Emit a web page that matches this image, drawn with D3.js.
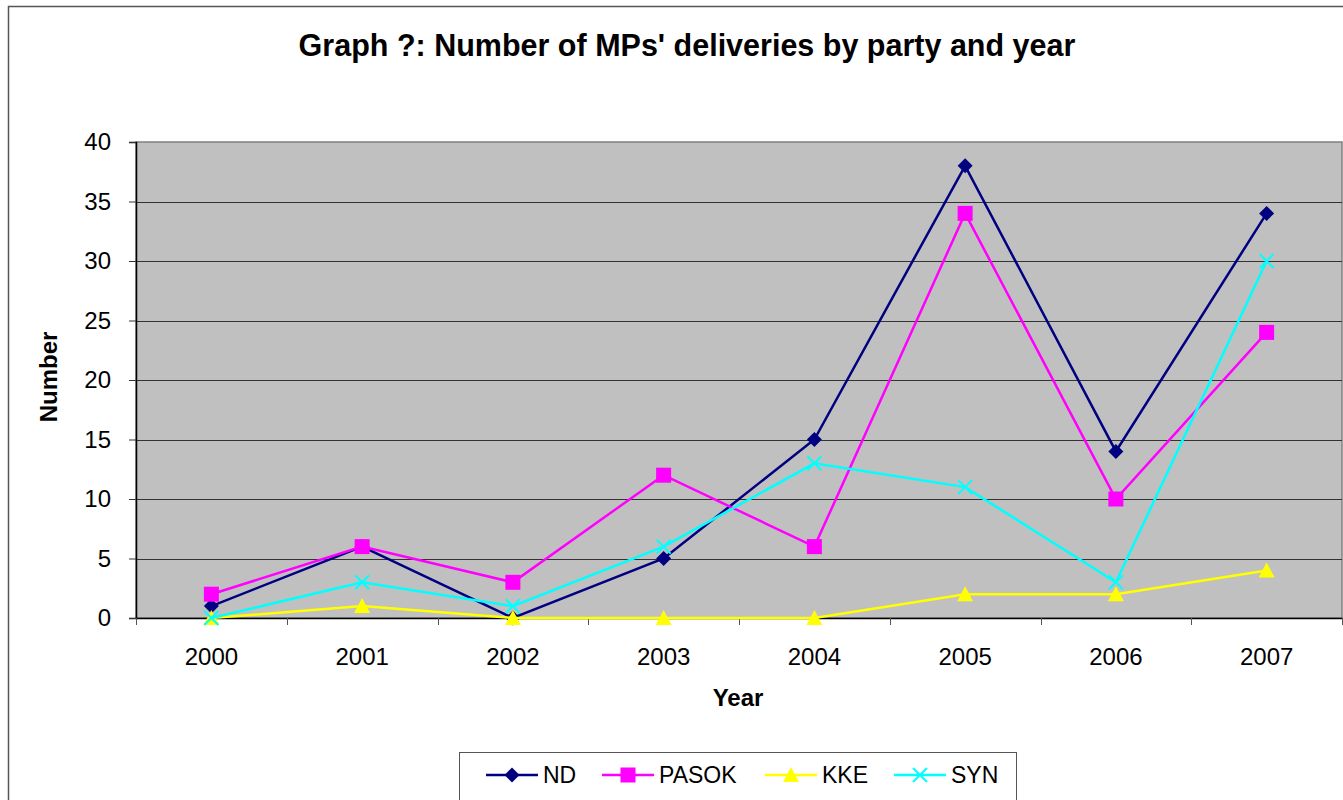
<!DOCTYPE html>
<html>
<head>
<meta charset="utf-8">
<script src="https://cdn.jsdelivr.net/npm/d3@7"></script>
<style>
  body { margin: 0; background: #fff; }
  svg { display: block; font-family: "Liberation Sans", Arial, sans-serif; }
</style>
</head>
<body>
<div id="chart"></div>
<script>
// Dados do gráfico
const years = ['2000', '2001', '2002', '2003', '2004', '2005', '2006', '2007'];
const ndValues = [1, 6, 0, 5, 15, 38, 14, 34];
const pasokValues = [2, 6, 3, 12, 6, 34, 10, 24];
const kkeValues = [0, 1, 0, 0, 0, 2, 2, 4];
const synValues = [0, 3, 1, 6, 13, 11, 3, 30];
const yTicks = [0, 5, 10, 15, 20, 25, 30, 35, 40];

const series = [
  { name: 'ND', values: ndValues, color: '#000080', symbol: 'diamond' },
  { name: 'PASOK', values: pasokValues, color: '#ff00ff', symbol: 'square' },
  { name: 'KKE', values: kkeValues, color: '#ffff00', symbol: 'triangle' },
  { name: 'SYN', values: synValues, color: '#00ffff', symbol: 'cross' }
];

const W = 1343, H = 800;
const plot = { left: 136, right: 1342, top: 142, bottom: 618 };

const svg = d3.select('#chart').append('svg')
  .attr('width', W)
  .attr('height', H);

// Borda externa
svg.append('rect')
  .attr('x', 8.5).attr('y', 6.5)
  .attr('width', W + 20).attr('height', H + 20)
  .attr('fill', '#fff')
  .attr('stroke', '#555')
  .attr('stroke-width', 1.5);

// Escalas
const x = d3.scaleBand().domain(years).range([plot.left, plot.right]);
const y = d3.scaleLinear().domain([0, 40]).range([plot.bottom, plot.top]);

// Fundo da área do gráfico
svg.append('rect')
  .attr('x', plot.left).attr('y', plot.top)
  .attr('width', plot.right - plot.left)
  .attr('height', plot.bottom - plot.top)
  .attr('fill', '#c0c0c0')
  .attr('stroke', '#808080')
  .attr('stroke-width', 1.5);

// Linhas de grade
svg.append('g')
  .selectAll('line')
  .data(yTicks.filter(d => d > 0 && d < 40))
  .enter().append('line')
  .attr('x1', plot.left).attr('x2', plot.right)
  .attr('y1', d => Math.round(y(d)) + 0.5)
  .attr('y2', d => Math.round(y(d)) + 0.5)
  .attr('stroke', '#333')
  .attr('stroke-width', 1);

// Eixo Y
const yAxis = svg.append('g')
  .attr('transform', `translate(${plot.left},0)`)
  .call(d3.axisLeft(y).tickValues(yTicks).tickSize(7).tickPadding(18));
yAxis.select('.domain').attr('stroke', '#000').attr('stroke-width', 1.5);
yAxis.selectAll('.tick line').attr('stroke', '#333');
yAxis.selectAll('text')
  .style('font-size', '24px')
  .style('font-family', '"Liberation Sans", Arial, sans-serif')
  .attr('fill', '#000');

// Eixo X
const xAxis = svg.append('g')
  .attr('transform', `translate(0,${plot.bottom})`)
  .call(d3.axisBottom(x).tickSize(0).tickPadding(30));
xAxis.select('.domain').attr('stroke', '#000').attr('stroke-width', 1.5);
xAxis.selectAll('text')
  .style('font-size', '24px')
  .style('font-family', '"Liberation Sans", Arial, sans-serif')
  .attr('fill', '#000');

// Marcas entre categorias
const boundaries = years.map(d => x(d)).concat([plot.right]);
svg.append('g')
  .selectAll('line')
  .data(boundaries)
  .enter().append('line')
  .attr('x1', d => Math.round(d) + 0.5).attr('x2', d => Math.round(d) + 0.5)
  .attr('y1', plot.bottom).attr('y2', plot.bottom + 7)
  .attr('stroke', '#555')
  .attr('stroke-width', 1);

// Título
svg.append('text')
  .attr('x', 687).attr('y', 56)
  .attr('text-anchor', 'middle')
  .style('font-size', '30.5px')
  .style('font-weight', 'bold')
  .text("Graph ?: Number of MPs' deliveries by party and year");

// Títulos dos eixos
svg.append('text')
  .attr('x', 738).attr('y', 706)
  .attr('text-anchor', 'middle')
  .style('font-size', '24px')
  .style('font-weight', 'bold')
  .text('Year');

svg.append('text')
  .attr('transform', `translate(57,377) rotate(-90)`)
  .attr('text-anchor', 'middle')
  .style('font-size', '24px')
  .style('font-weight', 'bold')
  .text('Number');

// Símbolos
function drawMarker(g, symbol, color, cx, cy) {
  if (symbol === 'diamond') {
    g.append('path')
      .attr('d', `M${cx},${cy - 7.5}L${cx + 7.5},${cy}L${cx},${cy + 7.5}L${cx - 7.5},${cy}Z`)
      .attr('fill', color);
  } else if (symbol === 'square') {
    g.append('rect')
      .attr('x', cx - 7.5).attr('y', cy - 7.5)
      .attr('width', 15).attr('height', 15)
      .attr('fill', color);
  } else if (symbol === 'triangle') {
    g.append('path')
      .attr('d', `M${cx},${cy - 8}L${cx + 8},${cy + 7}L${cx - 8},${cy + 7}Z`)
      .attr('fill', color);
  } else {
    g.append('path')
      .attr('d', `M${cx - 7},${cy - 7}L${cx + 7},${cy + 7}M${cx - 7},${cy + 7}L${cx + 7},${cy - 7}`)
      .attr('stroke', color)
      .attr('stroke-width', 2)
      .attr('fill', 'none');
  }
}

const line = d3.line()
  .x((d, i) => x(years[i]) + x.bandwidth() / 2)
  .y(d => y(d));

series.forEach(s => {
  const g = svg.append('g');
  g.append('path')
    .datum(s.values)
    .attr('d', line)
    .attr('fill', 'none')
    .attr('stroke', s.color)
    .attr('stroke-width', 2.5);
  s.values.forEach((v, i) => {
    drawMarker(g, s.symbol, s.color, x(years[i]) + x.bandwidth() / 2, y(v));
  });
});

// Legenda
const legend = svg.append('g');
legend.append('rect')
  .attr('x', 459.5).attr('y', 752.5)
  .attr('width', 557).attr('height', 70)
  .attr('fill', '#fff')
  .attr('stroke', '#555')
  .attr('stroke-width', 1);

const legendX = [486, 602, 765, 894];
series.forEach((s, i) => {
  const lx = legendX[i];
  const ly = 775;
  const g = legend.append('g');
  g.append('line')
    .attr('x1', lx).attr('x2', lx + 52)
    .attr('y1', ly).attr('y2', ly)
    .attr('stroke', s.color)
    .attr('stroke-width', 2.5);
  drawMarker(g, s.symbol, s.color, lx + 26, ly);
  g.append('text')
    .attr('x', lx + 57).attr('y', ly + 8)
    .style('font-size', '23px')
    .text(s.name);
});
</script>
</body>
</html>
